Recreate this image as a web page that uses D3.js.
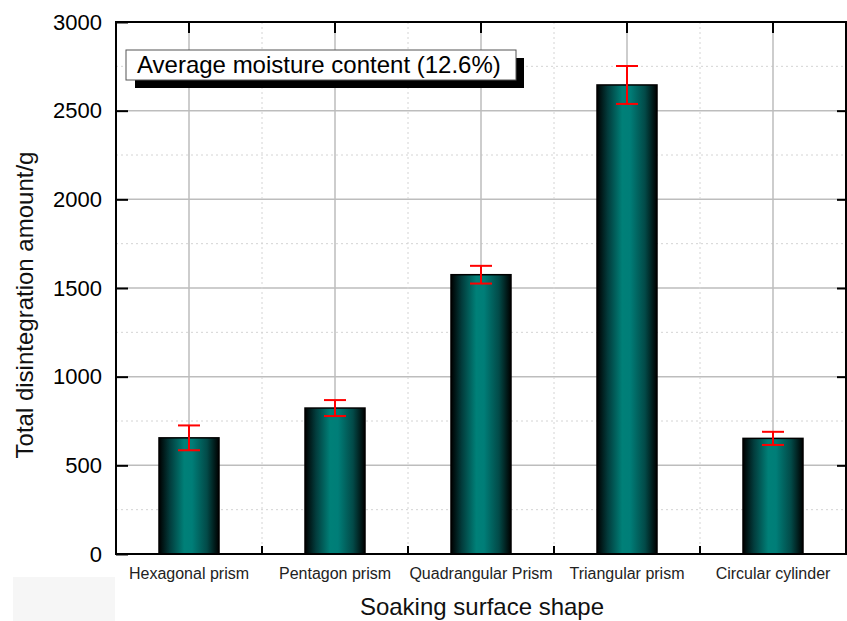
<!DOCTYPE html>
<html><head><meta charset="utf-8">
<script src="https://cdn.jsdelivr.net/npm/d3@7"></script>
<style>body{margin:0;background:#fff}svg{display:block}</style>
</head><body>
<svg id="c" width="847" height="621"></svg>
<script>
const categories = ["Hexagonal prism","Pentagon prism","Quadrangular Prism","Triangular prism","Circular cylinder"];
const values = [655, 823, 1575, 2645, 652];
const errors = [70, 45, 50, 107, 37];
const yTicks = [0,500,1000,1500,2000,2500,3000];
const yMinor = [250,750,1250,1750,2250,2750];
const annotation = "Average moisture content (12.6%)";

const svg = d3.select("#c");
const L=116, R=846, T=22, B=554;
const x = d3.scaleBand().domain(categories).range([L,R]).padding(0);
const y = d3.scaleLinear().domain([0,3000]).range([B,T]);
const bw = 60;
const FONT = "Arial, Liberation Sans, sans-serif";

// faint grey background patch at lower left (as in the scanned reference)
svg.append("rect").attr("x",13).attr("y",577).attr("width",102).attr("height",44).attr("fill","#f6f6f6");

const defs = svg.append("defs");
const g = defs.append("linearGradient").attr("id","bg").attr("x1","0%").attr("x2","100%").attr("y1","0%").attr("y2","0%");
[[0,"#000"],[0.18,"#023c3c"],[0.42,"#008078"],[0.55,"#007e78"],[0.8,"#024a48"],[1,"#000"]].forEach(s=>g.append("stop").attr("offset",s[0]).attr("stop-color",s[1]));

// grid
const grid = svg.append("g");
yMinor.forEach(v=>grid.append("line").attr("x1",L).attr("x2",R).attr("y1",y(v)).attr("y2",y(v)).attr("stroke","#d4d4d4").attr("stroke-width",1).attr("stroke-dasharray","2,3"));
yTicks.slice(1,-1).forEach(v=>grid.append("line").attr("x1",L).attr("x2",R).attr("y1",y(v)).attr("y2",y(v)).attr("stroke","#bdbdbd").attr("stroke-width",1.5));
categories.forEach((c,i)=>{
  const cx = x(c)+x.bandwidth()/2;
  grid.append("line").attr("x1",cx).attr("x2",cx).attr("y1",T).attr("y2",B).attr("stroke","#bdbdbd").attr("stroke-width",1.5);
  if(i>0) grid.append("line").attr("x1",x(c)).attr("x2",x(c)).attr("y1",T).attr("y2",B).attr("stroke","#d4d4d4").attr("stroke-width",1).attr("stroke-dasharray","2,3");
});

// bars
svg.append("g").selectAll("rect").data(categories).join("rect")
  .attr("x",(d)=>x(d)+x.bandwidth()/2-bw/2).attr("width",bw)
  .attr("y",(d,i)=>y(values[i])).attr("height",(d,i)=>y(0)-y(values[i]))
  .attr("fill","url(#bg)").attr("stroke","#000").attr("stroke-width",1.5);

// error bars
const eb = svg.append("g").attr("stroke","#ff0000").attr("stroke-width",2);
categories.forEach((c,i)=>{
  const cx = x(c)+x.bandwidth()/2;
  const hi=y(values[i]+errors[i]), lo=y(values[i]-errors[i]);
  eb.append("line").attr("x1",cx).attr("x2",cx).attr("y1",hi).attr("y2",lo);
  eb.append("line").attr("x1",cx-11).attr("x2",cx+11).attr("y1",hi).attr("y2",hi);
  eb.append("line").attr("x1",cx-11).attr("x2",cx+11).attr("y1",lo).attr("y2",lo);
});

// frame
svg.append("rect").attr("x",L).attr("y",T).attr("width",R-L).attr("height",B-T).attr("fill","none").attr("stroke","#000").attr("stroke-width",2);

// axes
const yAx = svg.append("g").attr("transform",`translate(${L},0)`)
  .call(d3.axisLeft(y).tickValues(yTicks).tickSize(-12).tickPadding(14).tickFormat(d3.format("d")));
yAx.select(".domain").remove();
yAx.selectAll(".tick line").attr("stroke-width",2);
yAx.selectAll("text").attr("font-family",FONT).attr("font-size",22).attr("fill","#000");
const yAxR = svg.append("g").attr("transform",`translate(${R},0)`)
  .call(d3.axisRight(y).tickValues(yTicks.slice(1,-1)).tickSize(-9).tickFormat(""));
yAxR.select(".domain").remove();
yAxR.selectAll(".tick line").attr("stroke-width",2);

const xAx = svg.append("g").attr("transform",`translate(0,${B})`)
  .call(d3.axisBottom(x).tickSize(0).tickPadding(14));
xAx.select(".domain").remove();
xAx.selectAll("text").attr("font-family",FONT).attr("font-size",16).attr("fill","#222");
// bottom minor ticks between categories
categories.slice(1).forEach(c=>svg.append("line").attr("x1",x(c)).attr("x2",x(c)).attr("y1",B).attr("y2",B-8).attr("stroke","#000").attr("stroke-width",2));
// top ticks at centers
categories.forEach(c=>{const cx=x(c)+x.bandwidth()/2; svg.append("line").attr("x1",cx).attr("x2",cx).attr("y1",T).attr("y2",T+11).attr("stroke","#000").attr("stroke-width",2);});

// titles
svg.append("text").attr("x",482).attr("y",615).attr("text-anchor","middle")
  .attr("font-family",FONT).attr("font-size",24).attr("fill","#111").text("Soaking surface shape");
svg.append("text").attr("transform",`translate(33,305) rotate(-90)`).attr("text-anchor","middle")
  .attr("font-family",FONT).attr("font-size",24).attr("fill","#111").text("Total disintegration amount/g");

// annotation
svg.append("rect").attr("x",135).attr("y",58).attr("width",389).attr("height",30).attr("fill","#000");
svg.append("rect").attr("x",126).attr("y",50).attr("width",390).attr("height",30).attr("fill","#fff").attr("stroke","#555").attr("stroke-width",1);
svg.append("text").attr("x",137).attr("y",73).attr("font-family",FONT).attr("font-size",24).attr("fill","#000").text(annotation);
</script>
</body></html>
